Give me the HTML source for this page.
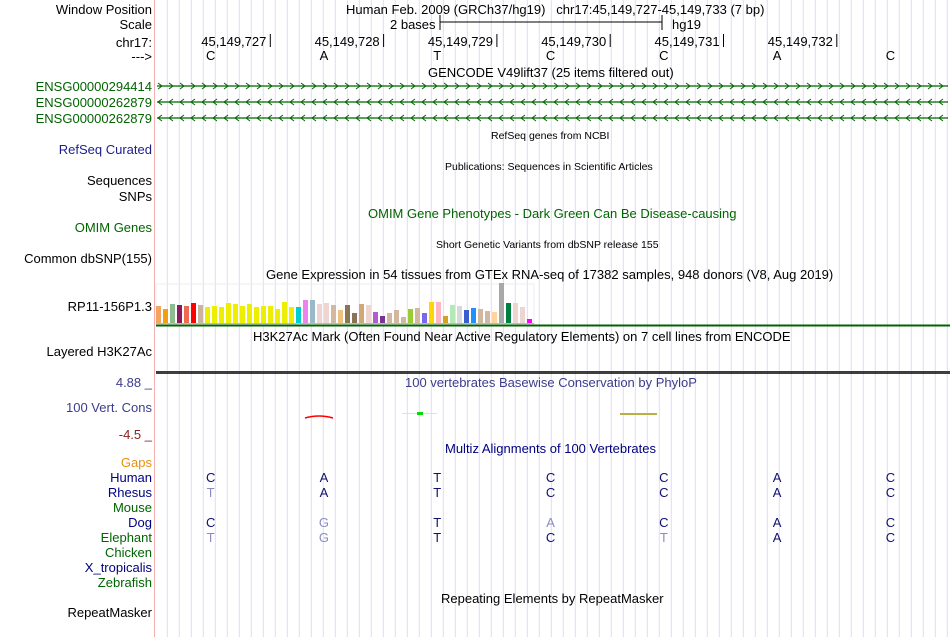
<!DOCTYPE html>
<html><head><meta charset="utf-8"><style>
body{margin:0;width:950px;height:637px;background:#fff;overflow:hidden;font-family:"Liberation Sans",sans-serif;font-size:13px;}
#wrap{position:relative;width:950px;height:637px;}
.t{position:absolute;white-space:nowrap;line-height:14px;}
.l{position:absolute;right:798px;text-align:right;white-space:nowrap;line-height:14px;}
.c{position:absolute;white-space:nowrap;line-height:14px;transform:translateX(-50%);}
.g{color:#006400}.nb{color:#000080}.rb{color:#1c1c8c}
svg{position:absolute;left:0;top:0}
</style></head><body><div id="wrap">
<svg id="s" width="950" height="637"></svg>

<div class="l" style="top:3px">Window Position</div>
<div class="l" style="top:18px">Scale</div>
<div class="l" style="top:36px">chr17:</div>
<div class="l" style="top:50px">---&gt;</div>
<div class="l g" style="top:80px">ENSG00000294414</div>
<div class="l g" style="top:96px">ENSG00000262879</div>
<div class="l g" style="top:112px">ENSG00000262879</div>
<div class="l" style="top:143px;color:#20208c">RefSeq Curated</div>
<div class="l" style="top:174px">Sequences</div>
<div class="l" style="top:190px">SNPs</div>
<div class="l g" style="top:221px">OMIM Genes</div>
<div class="l" style="top:252px">Common dbSNP(155)</div>
<div class="l" style="top:300px">RP11-156P1.3</div>
<div class="l" style="top:345px">Layered H3K27Ac</div>
<div class="l" style="top:376px;color:#3c3c8c">4.88 _</div>
<div class="l" style="top:401px;color:#3c3c8c">100 Vert. Cons</div>
<div class="l" style="top:428px;color:#8b2020">-4.5 _</div>
<div class="l" style="top:456px;color:#e89010">Gaps</div>
<div class="l nb" style="top:471px">Human</div>
<div class="l nb" style="top:486px">Rhesus</div>
<div class="l g" style="top:501px">Mouse</div>
<div class="l nb" style="top:516px">Dog</div>
<div class="l g" style="top:531px">Elephant</div>
<div class="l g" style="top:546px">Chicken</div>
<div class="l nb" style="top:561px">X_tropicalis</div>
<div class="l g" style="top:576px">Zebrafish</div>
<div class="l" style="top:606px">RepeatMasker</div>

<div class="t" style="left:346px;top:3px">Human Feb. 2009 (GRCh37/hg19)&nbsp;&nbsp;&nbsp;chr17:45,149,727-45,149,733 (7 bp)</div>
<div class="t" style="left:390px;top:18px">2 bases</div>
<div class="t" style="left:672px;top:18px">hg19</div>
<div class="t" style="left:428px;top:66px">GENCODE V49lift37 (25 items filtered out)</div>
<div class="t" style="left:491px;top:129px;font-size:10.5px">RefSeq genes from NCBI</div>
<div class="t" style="left:445px;top:160px;font-size:10.5px">Publications: Sequences in Scientific Articles</div>
<div class="t g" style="left:368px;top:207px">OMIM Gene Phenotypes - Dark Green Can Be Disease-causing</div>
<div class="t" style="left:436px;top:238px;font-size:10.5px">Short Genetic Variants from dbSNP release 155</div>
<div class="t" style="left:266px;top:268px">Gene Expression in 54 tissues from GTEx RNA-seq of 17382 samples, 948 donors (V8, Aug 2019)</div>
<div class="t" style="left:253px;top:330px">H3K27Ac Mark (Often Found Near Active Regulatory Elements) on 7 cell lines from ENCODE</div>
<div class="t" style="left:405px;top:376px;color:#3c3c8c">100 vertebrates Basewise Conservation by PhyloP</div>
<div class="t nb" style="left:445px;top:442px">Multiz Alignments of 100 Vertebrates</div>
<div class="t" style="left:441px;top:592px">Repeating Elements by RepeatMasker</div>
<div id="txt"></div>

<script>
const positions=["45,149,727","45,149,728","45,149,729","45,149,730","45,149,731","45,149,732"];
const bases=["C","A","T","C","C","A","C"];
const species=["Human","Rhesus","Mouse","Dog","Elephant"];
const alnRows=[["C","A","T","C","C","A","C"],["T","A","T","C","C","A","C"],["","","","","","",""],["C","G","T","A","C","A","C"],["T","G","T","C","T","A","C"]];
const alnFaint=[[0,0,0,0,0,0,0],[1,0,0,0,0,0,0],[0,0,0,0,0,0,0],[0,1,0,1,0,0,0],[1,1,0,0,1,0,0]];
const gtexValues=[17,14,19,18,17,20,18,16,17,16,20,19,17,19,16,17,17,14,21,16,16,23,23,19,20,18,13,18,10,19,18,11,7,10,13,6,14,15,10,21,21,7,18,17,13,15,14,12,11,40,20,20,16,4];
const gtexColors=["#f4a460","#f0a010","#8fbc8f","#8b1a5a","#ee6a50","#ff0000","#c8b4a0","#eeee00","#eeee00","#eeee00","#eeee00","#eeee00","#eeee00","#eeee00","#eeee00","#eeee00","#eeee00","#eeee00","#eeee00","#eeee00","#00cdcd","#ee82ee","#9ab8c8","#eed5d2","#eed5d2","#d2b8a0","#f0c080","#8b7355","#8b7355","#d2a878","#eed5d2","#b45ad2","#7b3294","#d2b8a0","#d2b8a0","#d2b8a0","#9acd32","#d2b8a0","#7b68ee","#ffd700","#ffb6c1","#d4a020","#b4e8b4","#d8d8d8","#3a5fcd","#1e90ff","#d2b8a0","#d2b8a0","#ffd39b","#a8a8a8","#008040","#eed5d2","#eed5d2","#ff00ff"];
const NS="http://www.w3.org/2000/svg";const s=document.getElementById('s');
function el(tag,a){const e=document.createElementNS(NS,tag);for(const k in a)e.setAttribute(k,a[k]);s.appendChild(e);return e;}
const x0=157,bw=113.3;
function baseX(i){return x0+bw*i+bw/2-6;}
for(let x=155.5;x<950;x+=12){const g=el('line',{x1:x+11.8,y1:0,x2:x+11.8,y2:637,stroke:'#dcdcf8','stroke-width':1});

}
const p=el('line',{x1:154.5,y1:0,x2:154.5,y2:637,stroke:'#f4b0b0','stroke-width':1});


el('line',{x1:440,y1:22,x2:662,y2:22,stroke:'#000'});el('line',{x1:440,y1:15,x2:440,y2:30,stroke:'#000'});el('line',{x1:662,y1:15,x2:662,y2:30,stroke:'#000'});
const txt=document.getElementById('txt');
function T(str,x,y,cls,col,name){const d=document.createElement('div');d.className=cls;d.style.left=x+'px';d.style.top=y+'px';if(col)d.style.color=col;d.textContent=str;


txt.appendChild(d);}
positions.forEach((p,i)=>{const tx=x0+bw*(i+1);T(p,tx-69,35,'t',null,'position-tick-label');
const tk=el('line',{x1:tx,y1:34,x2:tx,y2:47,stroke:'#000'});

});
bases.forEach((b,i)=>T(b,baseX(i)+3,49,'c',null,'reference-base'));
[86,102,118].forEach((y,r)=>{el('line',{x1:157,y1:y,x2:948,y2:y,stroke:'#006400','stroke-width':1.3});
for(let x=160;x<948;x+=11){const d=r==0?1:-1;const ch=el('polyline',{points:`${x-2*d},${y-3} ${x+2*d},${y} ${x-2*d},${y+3}`,fill:'none',stroke:'#006400','stroke-width':1});

}});
el('rect',{x:156,y:284,width:378,height:40,fill:'none',stroke:'#eeeeee'});
const base=323,scale=1;
gtexValues.forEach((v,i)=>{const r=el('rect',{x:156+i*7,y:base-v*scale,width:5,height:v*scale,fill:gtexColors[i]});

});
el('line',{x1:156,y1:323.5,x2:534,y2:323.5,stroke:'#bbb'});
el('line',{x1:156,y1:325.5,x2:950,y2:325.5,stroke:'#006400','stroke-width':2});
el('line',{x1:156,y1:371.5,x2:950,y2:371.5,stroke:'#7a1f2a','stroke-width':1});
el('line',{x1:156,y1:373,x2:950,y2:373,stroke:'#000','stroke-width':1.5});
el('path',{d:'M305,418 Q319,414 333,418',fill:'none',stroke:'#ff0000','stroke-width':1.5});
el('line',{x1:402,y1:413.5,x2:437,y2:413.5,stroke:'#c8f0c8','stroke-width':1});
el('rect',{x:417,y:412,width:6,height:3,fill:'#00dd00'});
el('line',{x1:620,y1:414,x2:657,y2:414,stroke:'#b8b040','stroke-width':2});
alnRows.forEach((row,r)=>row.forEach((b,i)=>{if(b)T(b,baseX(i)+3,471+r*15,'c',alnFaint[r][i]?'#8c8cc0':'#101070','aligned-base-'+species[r].toLowerCase());}));
</script>
</div></body></html>
